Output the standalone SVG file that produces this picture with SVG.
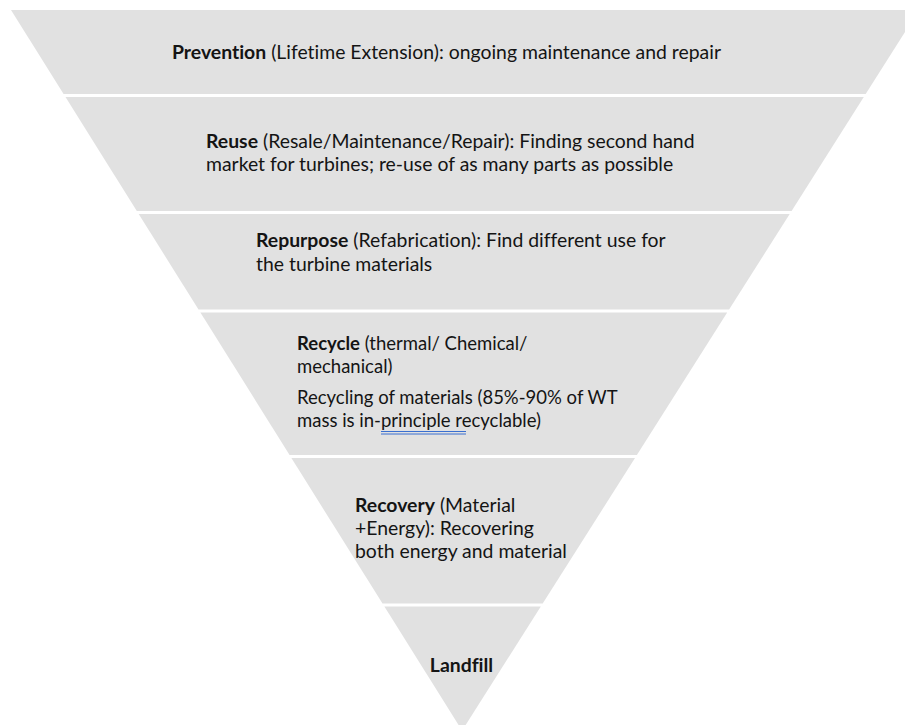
<svg xmlns="http://www.w3.org/2000/svg" width="905" height="725" viewBox="0 0 905 725">
<style>
.band{fill:#e1e1e1;stroke:none}
text{font-family:Lato,"Liberation Sans",sans-serif;font-size:19.4px;fill:#141414;font-variant-ligatures:none;font-feature-settings:"liga" 0,"dlig" 0}
.sm{font-size:18.5px}
.b{font-weight:bold}
.ul{stroke:#3a6fd0;stroke-width:1}
</style>
<rect width="905" height="725" fill="#ffffff"/>
<g id="prevention">
<polygon class="band" points="11,10 919,10 865.7,94 63.6,94"/>
<text x="172" y="59"><tspan class="b">Prevention</tspan> (Lifetime Extension): ongoing maintenance and repair</text>
</g>
<g id="reuse">
<polygon class="band" points="65.5,97 863.8,97 791.6,211 136.8,211"/>
<text x="206" y="148"><tspan class="b">Reuse</tspan> (Resale/Maintenance/Repair): Finding second hand</text>
<text x="206" y="171">market for turbines; re-use of as many parts as possible</text>
</g>
<g id="repurpose">
<polygon class="band" points="138.7,214 789.7,214 729.1,309.5 198.5,309.5"/>
<text x="256" y="246.5"><tspan class="b">Repurpose</tspan> (Refabrication): Find different use for</text>
<text x="256" y="270.5">the turbine materials</text>
</g>
<g id="recycle">
<polygon class="band" points="200.4,312.5 727.2,312.5 636.9,455 289.6,455"/>
<text class="sm" x="297" y="350"><tspan class="b">Recycle</tspan> (thermal/ Chemical/</text>
<text class="sm" x="297" y="373">mechanical)</text>
<text class="sm" x="297" y="404">Recycling of materials (85%-90% of WT</text>
<text class="sm" x="297" y="427">mass is in-principle recyclable)</text>
<line class="ul" x1="381" y1="431.5" x2="466" y2="431.5"/>
<line class="ul" x1="381" y1="434" x2="466" y2="434"/>
</g>
<g id="recovery">
<polygon class="band" points="291.4,458 635,458 542.7,603.5 382.5,603.5"/>
<text x="355" y="512"><tspan class="b">Recovery</tspan> (Material</text>
<text x="355" y="535">+Energy): Recovering</text>
<text x="355" y="558">both energy and material</text>
</g>
<g id="landfill">
<polygon class="band" points="384.4,606.5 540.8,606.5 462.1,730.6"/>
<text x="461.5" y="672" text-anchor="middle" class="b">Landfill</text>
</g>
<g id="connectors"></g>
</svg>
